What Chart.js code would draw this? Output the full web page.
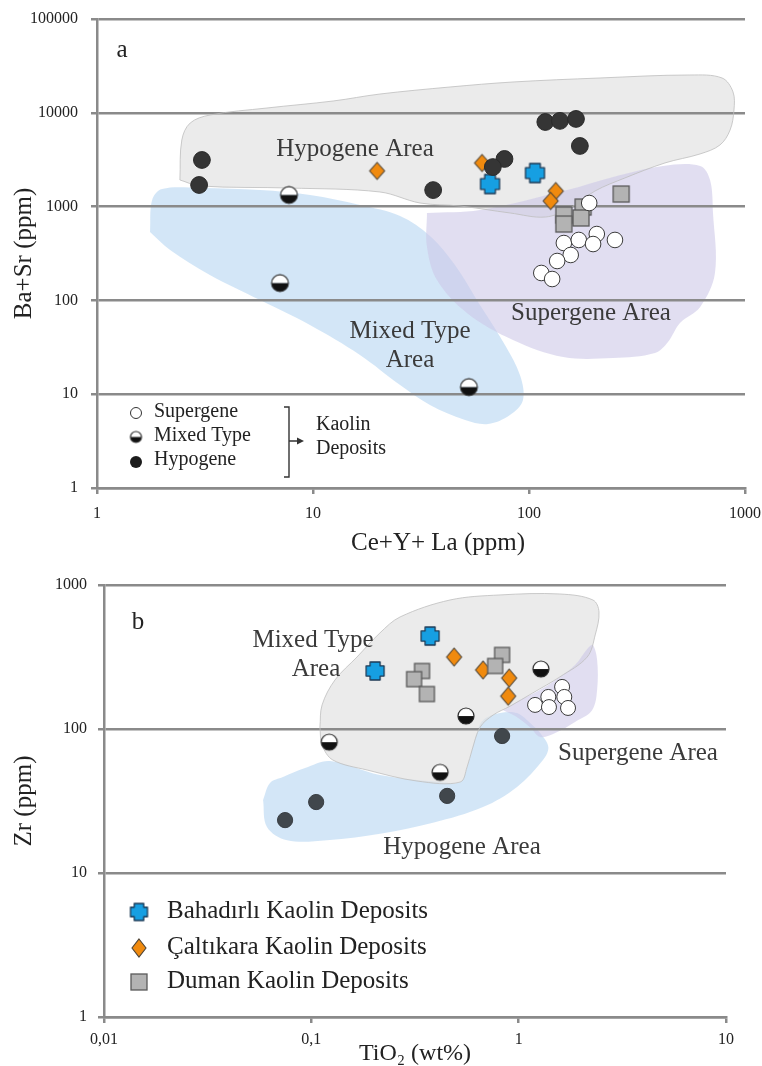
<!DOCTYPE html>
<html>
<head>
<meta charset="utf-8">
<title>Kaolin discrimination diagrams</title>
<script src="https://cdn.jsdelivr.net/npm/chart.js@4.4.0/dist/chart.umd.min.js"></script>
<style>
  html, body { margin: 0; padding: 0; background: #fff; }
  #wrap { position: relative; width: 762px; height: 1066px; overflow: hidden; }
  #chartA { position: absolute; left: 0; top: 0; }
  #chartB { position: absolute; left: 0; top: 560px; }
</style>
</head>
<body>
<div id="wrap">
  <canvas id="chartA" width="762" height="560"></canvas>
  <canvas id="chartB" width="762" height="506"></canvas>
</div>
<script>
// ---------- data: diagram a (Ce+Y+La vs Ba+Sr, ppm) ----------
const xTicksA = [1, 10, 100, 1000];
const yTicksA = [1, 10, 100, 1000, 10000, 100000];

const aSupergene = [[190, 1092], [145, 409], [170, 441], [206, 510], [198, 399],
                    [250, 441], [156, 305], [135, 263], [114, 196], [128, 169]];
const aMixed     = [[7.74, 1330], [7.03, 153], [52.7, 11.9]];
const aHypogene  = [[3.06, 3140], [2.97, 1700], [36, 1500], [119, 7980], [139, 8200],
                    [165, 8600], [172, 4430], [77, 3220], [68, 2640]];
const aBahadirli = [[106.6, 2280], [66, 1740]];
const aCaltikara = [[19.8, 2400], [60.6, 2920], [133, 1466], [126, 1148]];
const aDuman     = [[267, 1362], [178, 990], [174, 756], [145, 813], [145, 652]];

// field outlines of diagram a
const aHypogeneField = [[2.42, 1923], [2.47, 5130], [2.7, 7780], [3.34, 9480], [6.12, 11250],
  [12.4, 13360], [20.4, 15850], [43.1, 18840], [84.3, 21300], [213, 23500], [556, 25300],
  [783, 23500], [880, 16700], [889, 10700], [853, 6560], [766, 4540], [619, 3640], [426, 2920],
  [278, 2020], [202, 1466], [155, 966], [119, 774], [81.7, 855], [47.9, 1015], [31.3, 1092],
  [20.4, 1432], [7.83, 1578], [3.0, 1660]];
const aMixedField = [[1.76, 536], [1.8, 1175], [2.0, 1540], [3.0, 1580], [5.69, 1500],
  [9.68, 1330], [16.5, 1040], [25.3, 794], [34.8, 486], [45.4, 238], [59.3, 89.3], [77.4, 33.5],
  [90.8, 16], [93.8, 8.67], [81.6, 6.0], [64.6, 4.81], [50.6, 5.31], [34.8, 7.67], [25.3, 12.5],
  [16.5, 26.2], [9.68, 54.7], [5.69, 101], [3.33, 187], [2.18, 345]];
const aSupergeneField = [[33.7, 855], [59.3, 920], [150, 1500], [245, 2070], [417, 2710],
  [620, 2710], [689, 1920], [711, 855], [726, 196], [620, 85], [500, 57.4], [440, 36],
  [383, 27.5], [245, 24.3], [144, 24.9], [84.3, 37.8], [51.6, 73.4], [37.5, 165], [33.7, 371]];

// ---------- data: diagram b (TiO2 wt% vs Zr ppm) ----------
const xTicksB = [0.01, 0.1, 1, 10];
const xTickLabelsB = ['0,01', '0,1', '1', '10'];
const yTicksB = [1, 10, 100, 1000];

const bSupergene = [[1.62, 196], [1.39, 167], [1.66, 167], [1.2, 147], [1.4, 142], [1.73, 140]];
const bMixed     = [[1.28, 261], [0.557, 123], [0.122, 81], [0.418, 50]];
const bHypogene  = [[0.832, 89.4], [0.452, 34.3], [0.1055, 31.1], [0.0747, 23.3]];
const bBahadirli = [[0.374, 442], [0.203, 253]];
const bCaltikara = [[0.488, 316], [0.673, 257], [0.9, 226], [0.89, 169]];
const bDuman     = [[0.832, 327], [0.77, 274], [0.342, 253], [0.313, 222], [0.361, 175]];

const bMixedField = [[0.11, 103], [0.1127, 147], [0.13, 219], [0.166, 316], [0.214, 464],
  [0.268, 600], [0.467, 787], [0.813, 853], [1.58, 866], [2.28, 787], [2.44, 649], [2.34, 450],
  [2.14, 316], [1.58, 230], [1.17, 178], [0.909, 144], [0.753, 125], [0.652, 103], [0.596, 71.5],
  [0.564, 54.5], [0.522, 42.8], [0.324, 43.5], [0.186, 51.9], [0.127, 60.9], [0.1127, 77.4]];
const bHypogeneField = [[0.0585, 32.1], [0.0632, 42.2], [0.073, 46.4], [0.0933, 53.6],
  [0.123, 59.9], [0.214, 47.9], [0.418, 42.8], [0.522, 42.8], [0.564, 54.5], [0.623, 90.9],
  [0.673, 115], [0.813, 129], [0.982, 129], [1.16, 107], [1.27, 93.8], [1.39, 75], [1.31, 60.9],
  [0.982, 39.6], [0.673, 28.7], [0.386, 22.3], [0.222, 18.9], [0.119, 16.9], [0.0764, 16.9],
  [0.0611, 20.9]];
const bSupergeneField = [[0.841, 135], [1.02, 159], [1.27, 187], [1.58, 230], [1.87, 278],
  [2.16, 365], [2.28, 383], [2.39, 301], [2.39, 187], [2.26, 135], [1.87, 112], [1.5, 93.8],
  [1.27, 88], [1.14, 102], [0.962, 123]];

// ---------- look ----------
const SERIF = '"Liberation Serif", "DejaVu Serif", serif';
const GRID = '#8a8a8a';
const INK = '#222';
const LABEL = '#3a3a3a';

const toPts = arr => arr.map(([x, y]) => ({ x, y }));

// custom marker images
function makeCanvas(w, h) {
  const c = document.createElement('canvas');
  c.width = w; c.height = h;
  return c;
}
function makeHalf(r) {
  const s = Math.ceil(2 * r + 4), c = makeCanvas(s, s), g = c.getContext('2d'), m = s / 2;
  g.beginPath(); g.arc(m, m, r, Math.PI, 2 * Math.PI); g.closePath();
  g.fillStyle = '#fff'; g.fill();
  g.beginPath(); g.arc(m, m, r, 0, Math.PI); g.closePath();
  g.fillStyle = '#111'; g.fill();
  g.beginPath(); g.arc(m, m, r, 0, 2 * Math.PI);
  g.lineWidth = 1.2; g.strokeStyle = '#2a2a2a'; g.stroke();
  return c;
}
function makeCross(s) {
  const pad = 2, c = makeCanvas(s + pad * 2, s + pad * 2), g = c.getContext('2d');
  const a = s * 0.28, h = s / 2, m = c.width / 2;
  g.beginPath();
  g.moveTo(m - a, m - h); g.lineTo(m + a, m - h); g.lineTo(m + a, m - a); g.lineTo(m + h, m - a);
  g.lineTo(m + h, m + a); g.lineTo(m + a, m + a); g.lineTo(m + a, m + h); g.lineTo(m - a, m + h);
  g.lineTo(m - a, m + a); g.lineTo(m - h, m + a); g.lineTo(m - h, m - a); g.lineTo(m - a, m - a);
  g.closePath();
  g.lineJoin = 'round';
  g.fillStyle = '#169fe2'; g.fill();
  g.lineWidth = 1.3; g.strokeStyle = '#1d3a55'; g.stroke();
  return c;
}
function makeDiamond(w, h) {
  const c = makeCanvas(w + 4, h + 4), g = c.getContext('2d'), mx = c.width / 2, my = c.height / 2;
  g.beginPath();
  g.moveTo(mx, my - h / 2); g.lineTo(mx + w / 2, my); g.lineTo(mx, my + h / 2); g.lineTo(mx - w / 2, my);
  g.closePath();
  g.fillStyle = '#f08a0e'; g.fill();
  g.lineWidth = 1.1; g.strokeStyle = '#4e4436'; g.stroke();
  return c;
}
function makeSquare(s) {
  const c = makeCanvas(s + 4, s + 4), g = c.getContext('2d');
  g.fillStyle = '#b3b3b3'; g.fillRect(2, 2, s, s);
  g.lineWidth = 1.3; g.strokeStyle = '#5a5a5a'; g.strokeRect(2, 2, s, s);
  return c;
}

const halfA = makeHalf(8.4), halfB = makeHalf(8), halfLegend = makeHalf(5.5);
const crossA = makeCross(19), crossB = makeCross(18), crossLegend = makeCross(17);
const diamondA = makeDiamond(15, 17), diamondB = makeDiamond(15, 18), diamondLegend = makeDiamond(14, 18);
const squareA = makeSquare(16), squareB = makeSquare(15), squareLegend = makeSquare(16);

function pointSet(data, style, opts) {
  return Object.assign({
    data: toPts(data), pointStyle: style, pointRadius: 8, borderWidth: 1, order: 0
  }, opts);
}
function fieldSet(data, fill, border, order) {
  const pts = toPts(data);
  pts.push(pts[0]);
  return {
    data: pts, showLine: true, fill: 'shape', backgroundColor: fill,
    borderColor: border || 'rgba(0,0,0,0)', borderWidth: border ? 1 : 0,
    pointRadius: 0, tension: 0.35, order
  };
}

// fixed axis box so the plot area lands where the original has it
function fixBox(size, horizontal) {
  return s => {
    if (horizontal) s.height = size; else s.width = size;
    s.paddingLeft = 0; s.paddingRight = 0; s.paddingTop = 0; s.paddingBottom = 0;
  };
}

function logAxis(min, max, tickVals, extra) {
  return Object.assign({
    type: 'logarithmic', min, max,
    afterBuildTicks: s => { s.ticks = tickVals.map(v => ({ value: v })); },
    border: { display: true, color: GRID, width: 2.5 }
  }, extra);
}

// ---------- text drawn on the plot ----------
function annotations(draw) {
  return { id: 'notes', afterDatasetsDraw(chart) { const ctx = chart.ctx; ctx.save(); draw(ctx); ctx.restore(); } };
}
function text(ctx, str, x, y, size, color, align) {
  ctx.font = size + 'px ' + SERIF;
  ctx.fillStyle = color;
  ctx.textAlign = align || 'center';
  ctx.textBaseline = 'middle';
  ctx.fillText(str, x, y);
}
function image(ctx, img, x, y) {
  ctx.drawImage(img, x - img.width / 2, y - img.height / 2);
}

const notesA = annotations(ctx => {
  text(ctx, 'a', 122, 50, 25, INK);
  text(ctx, 'Hypogene Area', 355, 149, 25, LABEL);
  text(ctx, 'Supergene Area', 591, 313, 25, LABEL);
  text(ctx, 'Mixed Type', 410, 331, 25, LABEL);
  text(ctx, 'Area', 410, 360, 25, LABEL);
  // x axis title sits a little right of the plot centre in the original
  text(ctx, 'Ce+Y+ La (ppm)', 438, 543, 25, INK);
  // legend
  ctx.beginPath(); ctx.arc(136, 413, 5.5, 0, 2 * Math.PI);
  ctx.fillStyle = '#fff'; ctx.fill(); ctx.lineWidth = 1; ctx.strokeStyle = '#333'; ctx.stroke();
  image(ctx, halfLegend, 136, 437);
  ctx.beginPath(); ctx.arc(136, 462, 6, 0, 2 * Math.PI); ctx.fillStyle = '#1c1c1c'; ctx.fill();
  text(ctx, 'Supergene', 154, 412, 20, INK, 'left');
  text(ctx, 'Mixed Type', 154, 436, 20, INK, 'left');
  text(ctx, 'Hypogene', 154, 460, 20, INK, 'left');
  ctx.beginPath();
  ctx.moveTo(284, 407); ctx.lineTo(289, 407); ctx.lineTo(289, 477); ctx.lineTo(284, 477);
  ctx.moveTo(289, 441); ctx.lineTo(298, 441);
  ctx.lineWidth = 1.4; ctx.strokeStyle = '#333'; ctx.stroke();
  ctx.beginPath(); ctx.moveTo(297, 437.5); ctx.lineTo(304, 441); ctx.lineTo(297, 444.5); ctx.closePath();
  ctx.fillStyle = '#333'; ctx.fill();
  text(ctx, 'Kaolin', 316, 425, 20, INK, 'left');
  text(ctx, 'Deposits', 316, 449, 20, INK, 'left');
});

const notesB = annotations(ctx => {
  text(ctx, 'b', 138, 62, 25, INK);
  text(ctx, 'Mixed Type', 313, 80, 25, LABEL);
  text(ctx, 'Area', 316, 109, 25, LABEL);
  text(ctx, 'Supergene Area', 638, 193, 25, LABEL);
  text(ctx, 'Hypogene Area', 462, 287, 25, LABEL);
  // legend
  image(ctx, crossLegend, 139, 352);
  image(ctx, diamondLegend, 139, 388);
  image(ctx, squareLegend, 139, 422);
  text(ctx, 'Bahadırlı Kaolin Deposits', 167, 351, 25, INK, 'left');
  text(ctx, 'Çaltıkara Kaolin Deposits', 167, 387, 25, INK, 'left');
  text(ctx, 'Duman Kaolin Deposits', 167, 421, 25, INK, 'left');
});

const common = {
  responsive: false, animation: false, events: [],
  plugins: { legend: { display: false }, tooltip: { enabled: false }, filler: { drawTime: 'beforeDraw' } }
};
const tickFont = { family: SERIF, size: 16 };

// ---------- diagram a ----------
new Chart(document.getElementById('chartA'), {
  type: 'scatter',
  data: {
    datasets: [
      pointSet(aSupergene, 'circle', { pointRadius: 7.8, backgroundColor: '#fff', borderColor: '#3a3a3a' }),
      pointSet(aMixed, halfA),
      pointSet(aHypogene, 'circle', { pointRadius: 8.4, backgroundColor: '#353535', borderColor: '#2a2a2a' }),
      pointSet(aDuman, squareA),
      pointSet(aCaltikara, diamondA),
      pointSet(aBahadirli, crossA),
      fieldSet(aSupergeneField, 'rgba(205,200,232,0.6)', null, 2),
      fieldSet(aMixedField, 'rgba(190,218,243,0.68)', null, 3),
      fieldSet(aHypogeneField, 'rgba(226,226,226,0.7)', 'rgba(190,190,190,0.8)', 4)
    ]
  },
  options: Object.assign({}, common, {
    layout: { padding: { left: 0, right: 17, top: 19, bottom: 0 } },
    scales: {
      x: logAxis(1, 1000, xTicksA, {
        afterFit: fixBox(72, true),
        grid: { drawOnChartArea: false, drawTicks: true, tickLength: 6, color: GRID, lineWidth: 2.5 },
        ticks: { font: tickFont, color: INK, padding: 10, autoSkip: false, maxRotation: 0,
                 callback: v => String(v) }
      }),
      y: logAxis(1, 100000, yTicksA, {
        afterFit: fixBox(97, false),
        grid: { color: GRID, lineWidth: 2.5, tickLength: 6 },
        ticks: { font: tickFont, color: INK, padding: 13, autoSkip: false, callback: v => String(v) },
        title: { display: true, text: 'Ba+Sr (ppm)', color: INK,
                 font: { family: SERIF, size: 25, lineHeight: 1.2 }, padding: { top: 9, bottom: 0 } }
      })
    }
  }),
  plugins: [notesA]
});

// ---------- diagram b ----------
new Chart(document.getElementById('chartB'), {
  type: 'scatter',
  data: {
    datasets: [
      pointSet(bSupergene, 'circle', { pointRadius: 7.5, backgroundColor: '#fff', borderColor: '#3a3a3a' }),
      pointSet(bMixed, halfB),
      pointSet(bHypogene, 'circle', { pointRadius: 7.6, backgroundColor: '#41474c', borderColor: '#383d42' }),
      pointSet(bDuman, squareB),
      pointSet(bCaltikara, diamondB),
      pointSet(bBahadirli, crossB),
      fieldSet(bSupergeneField, 'rgba(205,200,232,0.6)', null, 2),
      fieldSet(bMixedField, 'rgba(226,226,226,0.7)', 'rgba(190,190,190,0.8)', 3),
      fieldSet(bHypogeneField, 'rgba(190,218,243,0.68)', null, 4)
    ]
  },
  options: Object.assign({}, common, {
    layout: { padding: { left: 0, right: 36, top: 25, bottom: 0 } },
    scales: {
      x: logAxis(0.01, 10, xTicksB, {
        afterFit: fixBox(49, true),
        grid: { drawOnChartArea: false, drawTicks: true, tickLength: 6, color: GRID, lineWidth: 2.5 },
        ticks: { font: tickFont, color: INK, padding: 7, autoSkip: false, maxRotation: 0,
                 callback: (v, i) => xTickLabelsB[i] },
        title: { display: true, text: 'TiO₂ (wt%)', color: INK,
                 font: { family: SERIF, size: 24, lineHeight: 1 }, padding: { top: 0, bottom: 0 } }
      }),
      y: logAxis(1, 1000, yTicksB, {
        afterFit: fixBox(104, false),
        grid: { color: GRID, lineWidth: 2.5, tickLength: 6 },
        ticks: { font: tickFont, color: INK, padding: 11, autoSkip: false, callback: v => String(v) },
        title: { display: true, text: 'Zr (ppm)', color: INK,
                 font: { family: SERIF, size: 25, lineHeight: 1.2 }, padding: { top: 9, bottom: 0 } }
      })
    }
  }),
  plugins: [notesB]
});
</script>
</body>
</html>
